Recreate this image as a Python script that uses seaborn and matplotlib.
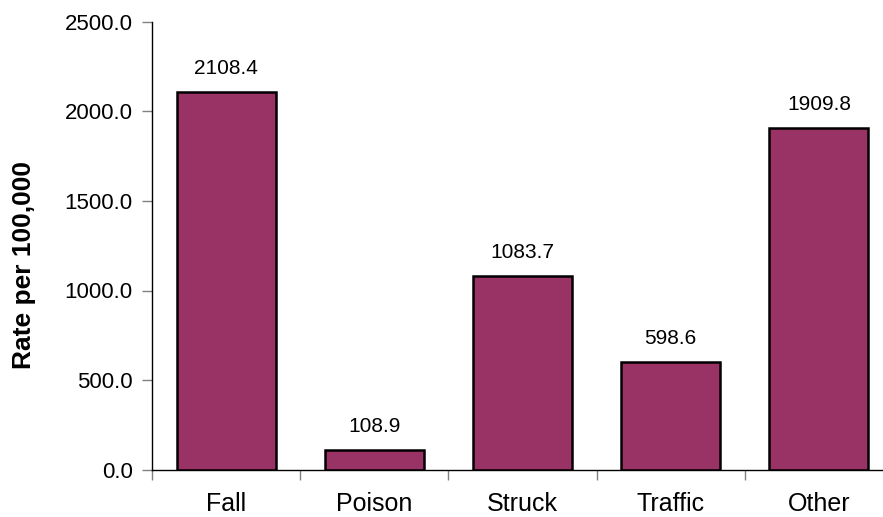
import matplotlib.pyplot as plt
import seaborn as sns
import pandas as pd
import numpy as np

# Data
categories = ["Fall", "Poison", "Struck", "Traffic", "Other"]
rates = [2108.4, 108.9, 1083.7, 598.6, 1909.8]
yticks = [0, 500, 1000, 1500, 2000, 2500]

df = pd.DataFrame({"cause": categories, "rate": rates})

sns.set_style("white")
plt.rcParams["font.family"] = ["Liberation Sans", "DejaVu Sans"]
plt.rcParams["text.color"] = "black"
plt.rcParams["axes.labelcolor"] = "black"

W, H = 883, 517
fig = plt.figure(figsize=(W / 100, H / 100), dpi=100)
ax = fig.add_axes([152 / W, (H - 469.5) / H, 741 / W, 447.5 / H])

sns.barplot(data=df, x="cause", y="rate", color="#993366", saturation=1,
            width=0.668, edgecolor="black", linewidth=1.8, ax=ax)

ax.set_xlim(-0.5, 4.5)
ax.set_ylim(0, 2500)
ax.set_yticks(yticks)
ax.set_yticklabels([f"{v:.1f}" for v in yticks], fontsize=16)
ax.set_xticks(np.arange(-0.5, 5, 1), minor=True)
ax.tick_params(axis="x", which="major", length=0, labelsize=18, pad=16.5,
               labelcolor="black")
ax.tick_params(axis="x", which="minor", length=7, color="#808080", width=1,
               direction="out", bottom=True)
ax.tick_params(axis="y", length=7, color="#808080", width=1, direction="out",
               left=True, pad=7, labelcolor="black")

ax.set_xlabel("")
ax.set_ylabel("Rate per 100,000", fontsize=19, fontweight="bold")
ax.yaxis.set_label_coords(-0.157, 0.457)

for s in ["top", "right"]:
    ax.spines[s].set_visible(False)
for s in ["left", "bottom"]:
    ax.spines[s].set_color("black")
    ax.spines[s].set_linewidth(1)

for i, v in enumerate(rates):
    ax.annotate(f"{v:.1f}", (i, v), xytext=(0, 10), textcoords="offset points",
                ha="center", va="bottom", fontsize=15, color="black")

fig.savefig("out.png", dpi=100)
